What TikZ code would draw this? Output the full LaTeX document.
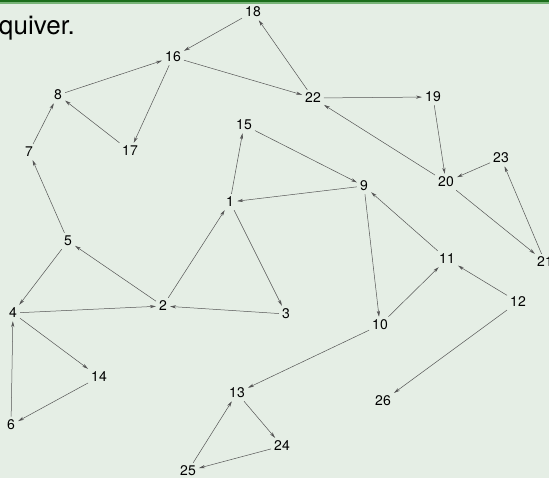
\documentclass[tikz,border=0pt]{standalone}
\usepackage{fontspec}
\setmainfont{TeX Gyre Heros}
\usepackage{xcolor}
\usetikzlibrary{arrows.meta, calc}

\definecolor{slidebg}{RGB}{229,238,229}
\definecolor{barDark}{RGB}{28,110,28}
\definecolor{barLight}{RGB}{120,180,120}
\definecolor{edgegray}{RGB}{85,85,85}

\tikzset{
    vert/.style={inner sep=3pt, font=\fontsize{14}{16}\selectfont},
    arr/.style={-{Stealth[length=6pt, width=3.2pt]}, draw=edgegray, line width=0.5pt}
}

\begin{document}
\begin{tikzpicture}[x=1pt, y=-1pt]
    % Slide background and title bar
    \useasboundingbox (0,0) rectangle (549,478);
    \fill[slidebg] (0,0) rectangle (549,478);
    \fill[barDark] (0,0) rectangle (549,2.5);
    \fill[barLight] (0,2.5) rectangle (549,4);
    \node[anchor=base east, inner sep=0pt, font=\fontsize{26}{30}\selectfont] (title) at (75,35) {quiver.};

    % Vertices of the quiver
    \node[vert] (n1)  at (230,202) {1};
    \node[vert] (n2)  at (163,306) {2};
    \node[vert] (n3)  at (286,314) {3};
    \node[vert] (n4)  at (13,313)  {4};
    \node[vert] (n5)  at (68,241)  {5};
    \node[vert] (n6)  at (11,425)  {6};
    \node[vert] (n7)  at (29,152)  {7};
    \node[vert] (n8)  at (58,95)   {8};
    \node[vert] (n9)  at (364,186) {9};
    \node[vert] (n10) at (380,325) {10};
    \node[vert] (n11) at (447,259) {11};
    \node[vert] (n12) at (518,302) {12};
    \node[vert] (n13) at (237,393) {13};
    \node[vert] (n14) at (99,377)  {14};
    \node[vert] (n15) at (244,125) {15};
    \node[vert] (n16) at (173,57)  {16};
    \node[vert] (n17) at (130,151) {17};
    \node[vert] (n18) at (253,12)  {18};
    \node[vert] (n19) at (433,97)  {19};
    \node[vert] (n20) at (446,182) {20};
    \node[vert] (n21) at (545,262) {21};
    \node[vert] (n22) at (313,98)  {22};
    \node[vert] (n23) at (501,158) {23};
    \node[vert] (n24) at (282,446) {24};
    \node[vert] (n25) at (188,471) {25};
    \node[vert] (n26) at (383,401) {26};

    % Arrows, upper left part
    \draw[arr] (n18) -- (n16);
    \draw[arr] (n22) -- (n18);
    \draw[arr] (n8) -- (n16);
    \draw[arr] (n16) -- (n22);
    \draw[arr] (n16) -- (n17);
    \draw[arr] (n17) -- (n8);
    \draw[arr] (n7) -- (n8);
    \draw[arr] (n5) -- (n7);
    \draw[arr] (n5) -- (n4);
    \draw[arr] (n2) -- (n5);

    % Arrows, middle
    \draw[arr] (n2) -- (n1);
    \draw[arr] (n1) -- (n15);
    \draw[arr] (n15) -- (n9);
    \draw[arr] (n9) -- (n1);
    \draw[arr] (n1) -- (n3);
    \draw[arr] (n3) -- (n2);
    \draw[arr] (n4) -- (n2);
    \draw[arr] (n4) -- (n14);
    \draw[arr] (n14) -- (n6);
    \draw[arr] (n6) -- (n4);

    % Arrows, right part
    \draw[arr] (n9) -- (n10);
    \draw[arr] (n10) -- (n11);
    \draw[arr] (n11) -- (n9);
    \draw[arr] (n12) -- (n11);
    \draw[arr] (n12) -- (n26);
    \draw[arr] (n22) -- (n19);
    \draw[arr] (n19) -- (n20);
    \draw[arr] (n20) -- (n22);
    \draw[arr] (n23) -- (n20);
    \draw[arr] (n20) -- (n21);
    \draw[arr] (n21) -- (n23);

    % Arrows, bottom triangle
    \draw[arr] (n10) -- (n13);
    \draw[arr] (n13) -- (n24);
    \draw[arr] (n24) -- (n25);
    \draw[arr] (n25) -- (n13);
\end{tikzpicture}
\end{document}
